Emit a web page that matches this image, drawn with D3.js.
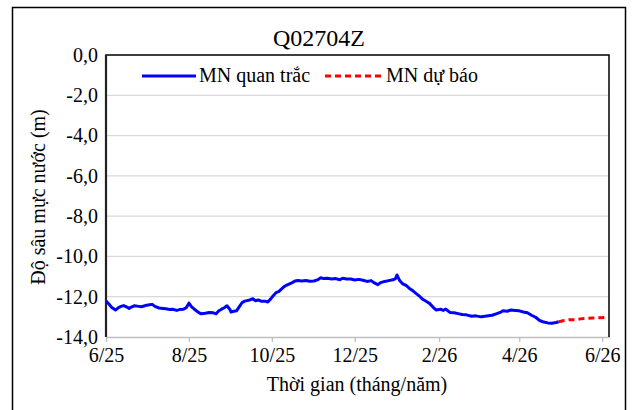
<!DOCTYPE html>
<html><head><meta charset="utf-8">
<style>
svg text { font-family: "Liberation Serif", Tinos, "Times New Roman", serif !important; }
</style>
<script src="https://cdn.jsdelivr.net/npm/d3@7"></script>
</head><body style="margin:0;padding:0;background:#fff">
<svg id="chart" width="634" height="410" style="display:block"></svg>
<script>
const chartTitle = "Q02704Z";
const xAxisTitle = "Thời gian (tháng/năm)";
const yAxisTitle = "Độ sâu mực nước (m)";
const seriesNames = ["MN quan trắc", "MN dự báo"];
const xTickDates = ["2025-06-01","2025-08-01","2025-10-01","2025-12-01","2026-02-01","2026-04-01","2026-06-01"];
const xTickLabels = ["6/25","8/25","10/25","12/25","2/26","4/26","6/26"];
const yTickValues = [0,-2,-4,-6,-8,-10,-12,-14];
const yTickLabels = ["0,0","-2,0","-4,0","-6,0","-8,0","-10,0","-12,0","-14,0"];
const xDomain = ["2025-06-01","2026-06-06"];
const yDomain = [-14, 0];

const obsDates = ["2025-06-01","2025-06-03","2025-06-05","2025-06-08","2025-06-10","2025-06-12","2025-06-14","2025-06-16","2025-06-18","2025-06-20","2025-06-22","2025-06-25","2025-06-27","2025-06-29",
"2025-07-01","2025-07-03","2025-07-05","2025-07-07","2025-07-10","2025-07-13","2025-07-15","2025-07-18","2025-07-20","2025-07-23","2025-07-25","2025-07-28","2025-07-30",
"2025-08-01","2025-08-03","2025-08-05","2025-08-08","2025-08-10","2025-08-13","2025-08-16","2025-08-19","2025-08-21","2025-08-23","2025-08-25","2025-08-27","2025-08-29","2025-08-31",
"2025-09-01","2025-09-03","2025-09-05","2025-09-07","2025-09-09","2025-09-11","2025-09-14","2025-09-17","2025-09-19","2025-09-21","2025-09-23","2025-09-26","2025-09-28","2025-09-30",
"2025-10-02","2025-10-04","2025-10-06","2025-10-08","2025-10-10","2025-10-12","2025-10-14","2025-10-16","2025-10-18","2025-10-20","2025-10-23","2025-10-26","2025-10-29",
"2025-11-01","2025-11-04","2025-11-06","2025-11-08","2025-11-11","2025-11-14","2025-11-17","2025-11-20","2025-11-22","2025-11-25","2025-11-28",
"2025-12-01","2025-12-04","2025-12-07","2025-12-10","2025-12-13","2025-12-15","2025-12-18","2025-12-20","2025-12-23","2025-12-26","2025-12-29","2025-12-31",
"2026-01-01","2026-01-03","2026-01-05","2026-01-08","2026-01-10","2026-01-13","2026-01-15","2026-01-18","2026-01-20","2026-01-23","2026-01-25","2026-01-28","2026-01-30",
"2026-02-02","2026-02-04","2026-02-06","2026-02-09","2026-02-12","2026-02-15","2026-02-18","2026-02-21","2026-02-25","2026-02-28",
"2026-03-04","2026-03-08","2026-03-12","2026-03-15","2026-03-18","2026-03-20","2026-03-23","2026-03-26","2026-03-29",
"2026-04-01","2026-04-04","2026-04-07","2026-04-10","2026-04-13","2026-04-16","2026-04-19","2026-04-22","2026-04-25","2026-04-28","2026-04-30"];
const obsValues = [-12.22,-12.35,-12.52,-12.66,-12.55,-12.48,-12.44,-12.50,-12.58,-12.50,-12.45,-12.48,-12.50,-12.46,
-12.42,-12.40,-12.38,-12.48,-12.56,-12.58,-12.60,-12.63,-12.62,-12.68,-12.64,-12.62,-12.55,
-12.32,-12.50,-12.62,-12.78,-12.85,-12.82,-12.78,-12.80,-12.85,-12.70,-12.62,-12.55,-12.45,-12.62,
-12.76,-12.72,-12.70,-12.50,-12.30,-12.22,-12.18,-12.10,-12.20,-12.16,-12.22,-12.22,-12.26,-12.12,
-11.95,-11.80,-11.75,-11.62,-11.50,-11.42,-11.36,-11.30,-11.22,-11.20,-11.22,-11.20,-11.23,
-11.22,-11.15,-11.06,-11.10,-11.08,-11.12,-11.10,-11.16,-11.08,-11.12,-11.12,
-11.17,-11.14,-11.18,-11.24,-11.20,-11.30,-11.40,-11.30,-11.24,-11.20,-11.16,-11.10,
-10.92,-11.20,-11.35,-11.45,-11.58,-11.72,-11.83,-12.00,-12.13,-12.25,-12.33,-12.55,-12.66,
-12.62,-12.68,-12.62,-12.78,-12.80,-12.84,-12.88,-12.90,-12.97,-12.95,
-13.00,-12.96,-12.92,-12.85,-12.78,-12.70,-12.72,-12.66,-12.68,
-12.70,-12.76,-12.80,-12.92,-13.02,-13.18,-13.26,-13.30,-13.32,-13.28,-13.24];

const fcDates = ["2026-04-30","2026-05-04","2026-05-08","2026-05-12","2026-05-16","2026-05-20","2026-05-25","2026-05-30","2026-06-05"];
const fcValues = [-13.24,-13.18,-13.14,-13.15,-13.10,-13.08,-13.06,-13.04,-13.02];

const FONT = "Tinos";
const parse = d3.timeParse("%Y-%m-%d");
const svg = d3.select("#chart");
const plot = {left: 106, right: 609, top: 55, bottom: 337};

function txt(sel, size) {
  return sel.attr("font-family", FONT).attr("font-size", size).attr("fill", "#000");
}

// outer frame
svg.append("rect").attr("x", 12.5).attr("y", 7.5).attr("width", 613).attr("height", 420)
  .attr("fill", "none").attr("stroke", "#000").attr("stroke-width", 1.5);

const x = d3.scaleTime().domain(xDomain.map(parse)).range([plot.left, plot.right]);
const y = d3.scaleLinear().domain(yDomain).range([plot.bottom, plot.top]);

// gridlines
svg.append("g").selectAll("line").data(yTickValues.filter(v => v > yDomain[0] && v < yDomain[1]))
  .join("line").attr("x1", plot.left).attr("x2", plot.right)
  .attr("y1", d => y(d)).attr("y2", d => y(d))
  .attr("stroke", "#d9d9d9").attr("stroke-width", 1.3);

// x axis
const xAxis = d3.axisBottom(x).tickValues(xTickDates.map(parse))
  .tickFormat((d, i) => xTickLabels[i]).tickSizeInner(5).tickSizeOuter(0).tickPadding(6);
const gx = svg.append("g").attr("transform", `translate(0,${plot.bottom})`).call(xAxis)
  .attr("font-family", FONT).attr("font-size", 20);
gx.select(".domain").attr("stroke", "#bfbfbf").attr("stroke-width", 1.3);
gx.selectAll(".tick line").attr("stroke", "#bfbfbf").attr("stroke-width", 1.3);
txt(gx.selectAll(".tick text"), 20);

// y axis
const yAxis = d3.axisLeft(y).tickValues(yTickValues)
  .tickFormat((d, i) => yTickLabels[i]).tickSize(0).tickPadding(8);
const gy = svg.append("g").attr("transform", `translate(${plot.left},0)`).call(yAxis)
  .attr("font-family", FONT).attr("font-size", 20);
gy.select(".domain").remove();
txt(gy.selectAll(".tick text"), 20);

// plot border (left, top, right)
svg.append("path")
  .attr("d", `M${plot.left},${plot.bottom}V${plot.top}H${plot.right}V${plot.bottom}`)
  .attr("fill", "none").attr("stroke", "#000").attr("stroke-width", 1.5);
svg.append("line").attr("x1", plot.left).attr("x2", plot.left).attr("y1", plot.top).attr("y2", plot.bottom)
  .attr("stroke", "#222").attr("stroke-width", 2.2);

// lines
const line = d3.line().x(d => x(d[0])).y(d => y(d[1]));
const obs = obsDates.map((d, i) => [parse(d), obsValues[i]]);
const fc = fcDates.map((d, i) => [parse(d), fcValues[i]]);
svg.append("path").datum(obs).attr("d", line).attr("fill", "none")
  .attr("stroke", "#0000ff").attr("stroke-width", 3).attr("stroke-linejoin", "round");
svg.append("path").datum(fc).attr("d", line).attr("fill", "none")
  .attr("stroke", "#ff0000").attr("stroke-width", 3).attr("stroke-dasharray", "6,4");

// title
txt(svg.append("text").attr("x", 319).attr("y", 46).attr("text-anchor", "middle"), 24).text(chartTitle);

// axis titles
txt(svg.append("text").attr("x", 357).attr("y", 391).attr("text-anchor", "middle"), 20).text(xAxisTitle);
txt(svg.append("text").attr("transform", "translate(45,197) rotate(-90)").attr("text-anchor", "middle"), 20).text(yAxisTitle);

// legend
const leg = svg.append("g");
leg.append("line").attr("x1", 142).attr("x2", 196).attr("y1", 76).attr("y2", 76)
  .attr("stroke", "#0000ff").attr("stroke-width", 3);
txt(leg.append("text").attr("x", 199).attr("y", 82), 20).text(seriesNames[0]);
leg.append("line").attr("x1", 325).attr("x2", 381).attr("y1", 76).attr("y2", 76)
  .attr("stroke", "#ff0000").attr("stroke-width", 3).attr("stroke-dasharray", "6,4");
txt(leg.append("text").attr("x", 386).attr("y", 82), 20).text(seriesNames[1]);
</script>
</body></html>
